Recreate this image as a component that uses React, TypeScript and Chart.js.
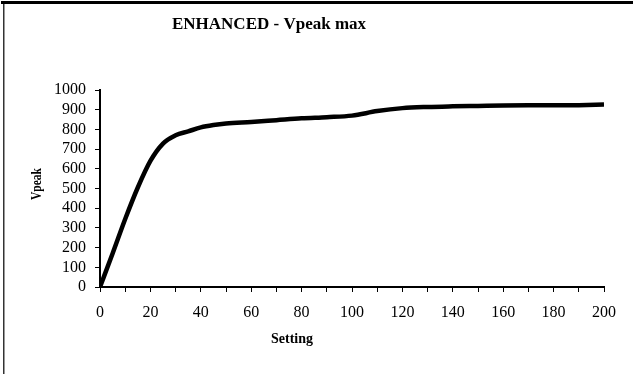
import React, { useEffect, useRef } from "react";
import { Chart, registerables } from "chart.js";

Chart.register(...registerables);

const settings = [0, 5, 10, 15, 20, 25, 30, 35, 40, 45, 50, 60, 70, 80, 90, 100, 110, 120, 130, 140, 150, 160, 170, 180, 190, 200];
const vpeak = [0, 170, 345, 505, 640, 728, 770, 790, 810, 822, 830, 838, 847, 856, 862, 870, 893, 908, 914, 917, 919, 921, 922, 922, 923, 926];

const chartTitle = "ENHANCED - Vpeak max";
const xTitle = "Setting";
const yTitle = "Vpeak";
const FONT = '"Liberation Serif", "Times New Roman", serif';

const decorPlugin = {
  id: "decor",
  beforeDraw(chart: any) {
    const ctx = chart.ctx;
    ctx.save();
    ctx.fillStyle = "#fff";
    ctx.fillRect(0, 0, chart.width, chart.height);
    ctx.restore();
  },
  afterDraw(chart: any) {
    const ctx = chart.ctx;
    ctx.save();
    // frame
    ctx.fillStyle = "#000";
    ctx.fillRect(1, 1, chart.width - 1, 3);
    ctx.fillStyle = "#333";
    ctx.fillRect(3, 4, 1.5, chart.height - 4);
    // title
    ctx.fillStyle = "#000";
    ctx.textAlign = "center";
    ctx.textBaseline = "middle";
    ctx.font = `bold 17px ${FONT}`;
    ctx.fillText(chartTitle, 269, 25);
    // x title
    ctx.font = `bold 14px ${FONT}`;
    ctx.fillText(xTitle, 292, 339);
    // y title
    ctx.translate(37, 184);
    ctx.rotate(-Math.PI / 2);
    ctx.scale(0.82, 1);
    ctx.font = `bold 14px ${FONT}`;
    ctx.fillText(yTitle, 0, 0);
    ctx.restore();
  },
};

export default function App() {
  const ref = useRef<HTMLCanvasElement | null>(null);
  useEffect(() => {
    document.documentElement.style.overflow = "hidden";
    document.body.style.margin = "0";
    document.body.style.overflow = "hidden";
    document.body.style.background = "#fff";
    if (!ref.current) return;
    const chart = new Chart(ref.current, {
      type: "line",
      data: {
        datasets: [
          {
            data: settings.map((x, i) => ({ x, y: vpeak[i] })),
            borderColor: "#000",
            borderWidth: 4.5,
            pointRadius: 0,
            cubicInterpolationMode: "monotone",
            borderCapStyle: "butt",
            fill: false,
          },
        ],
      },
      options: {
        animation: false,
        responsive: false,
        maintainAspectRatio: false,
        devicePixelRatio: 1,
        layout: { padding: { left: 0, top: 90, right: 29, bottom: 0 } },
        plugins: { legend: { display: false }, title: { display: false }, tooltip: { enabled: false } },
        scales: {
          x: {
            type: "linear",
            min: 0,
            max: 200,
            afterFit: (s: any) => {
              s.height = 87;
            },
            ticks: {
              stepSize: 10,
              autoSkip: false,
              maxRotation: 0,
              padding: 11,
              color: "#000",
              font: { family: FONT, size: 16 },
              callback: (v: any) => (Number(v) % 20 === 0 ? String(v) : ""),
            },
            grid: { drawOnChartArea: false, tickLength: 5, color: "#000", lineWidth: 1 },
            border: { color: "#000", width: 2 },
          },
          y: {
            min: 0,
            max: 1000,
            afterFit: (s: any) => {
              s.width = 100;
            },
            ticks: {
              stepSize: 100,
              autoSkip: false,
              padding: 9,
              color: "#000",
              font: { family: FONT, size: 16 },
              callback: (v: any) => String(v),
            },
            grid: { drawOnChartArea: false, tickLength: 5, color: "#000", lineWidth: 1 },
            border: { color: "#000", width: 2 },
          },
        },
      },
      plugins: [decorPlugin],
    } as any);
    return () => chart.destroy();
  }, []);
  return (
    <div style={{ position: "fixed", left: 0, top: 0, width: 633, height: 374, background: "#fff" }}>
      <canvas ref={ref} width={633} height={374} style={{ display: "block", width: 633, height: 374 }} />
    </div>
  );
}
